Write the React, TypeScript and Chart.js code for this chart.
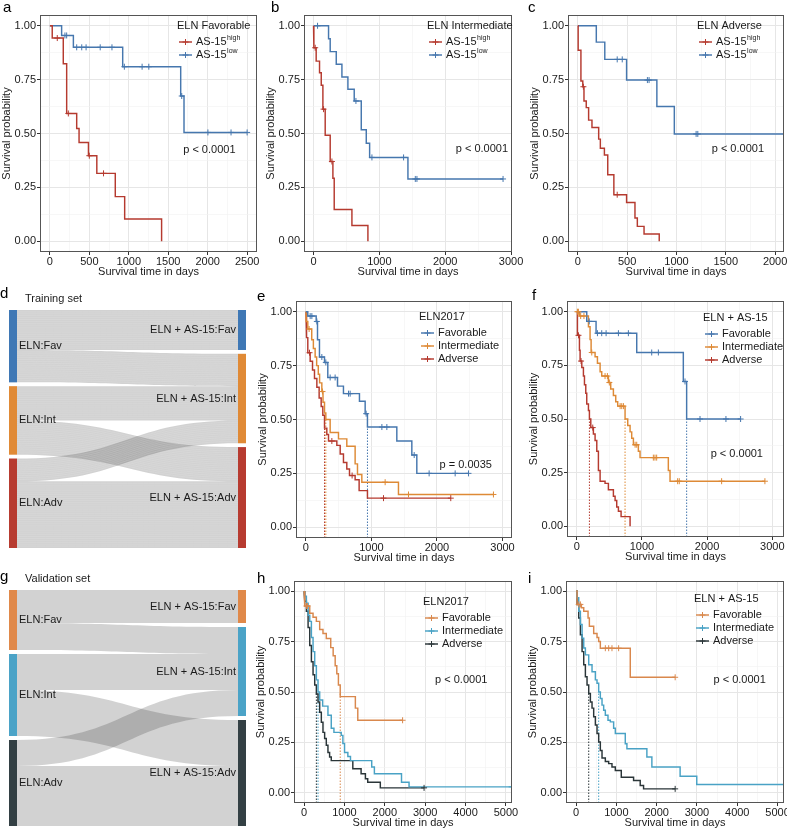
import React, { useEffect, useRef } from "react";
import { Chart, registerables } from "chart.js";

Chart.register(...registerables);

const FONT = '"Liberation Sans", Arial, Helvetica, sans-serif';
const TXT = "#1a1a1a";

// ---------------- panel a : ELN Favorable ----------------
const aHighT = [30, 170, 213, 340, 370, 489, 595, 829, 948, 1416];
const aHighS = [0.943, 0.824, 0.593, 0.523, 0.458, 0.397, 0.315, 0.207, 0.103, 0];
const aHighC = [94, 234, 500, 680];
const aLowT = [149, 298, 923, 1658, 1700];
const aLowS = [0.955, 0.9, 0.81, 0.674, 0.505];
const aLowC = [191, 213, 340, 404, 459, 638, 787, 944, 1169, 1254, 1671, 2003, 2296, 2500];

// ---------------- panel b : ELN Intermediate ----------------
const bHighT = [5, 40, 91, 117, 142, 177, 253, 294, 314, 583, 826];
const bHighS = [0.898, 0.836, 0.782, 0.724, 0.613, 0.492, 0.37, 0.292, 0.147, 0.073, 0];
const bHighC = [25, 152, 279];
const bLowT = [228, 253, 345, 431, 522, 618, 725, 801, 852, 1434];
const bLowS = [0.94, 0.88, 0.821, 0.762, 0.705, 0.651, 0.517, 0.455, 0.389, 0.289];
const bLowC = [61, 644, 887, 1368, 1546, 1571, 2879];

// ---------------- panel c : ELN Adverse ----------------
const cHighT = [3, 31, 50, 62, 85, 109, 143, 211, 228, 269, 303, 365, 494, 579, 603, 671, 825];
const cHighS = [0.886, 0.744, 0.717, 0.651, 0.62, 0.562, 0.528, 0.474, 0.432, 0.4, 0.309, 0.216, 0.18, 0.108, 0.069, 0.034, 0];
const cHighC = [56, 399];
const cLowT = [187, 273, 494, 801, 978];
const cLowS = [0.924, 0.844, 0.748, 0.625, 0.498];
const cLowC = [399, 450, 705, 722, 1199, 1216];
const cLowEnd = 2150;

// ---------------- panel e : ELN2017, training ----------------
const eFavT = [30, 158, 178, 208, 285, 335, 483, 574, 818, 905, 940, 1388, 1617, 1693];
const eFavS = [0.98, 0.955, 0.87, 0.79, 0.765, 0.695, 0.655, 0.62, 0.585, 0.527, 0.465, 0.4, 0.335, 0.25];
const eFavC = [66, 92, 168, 244, 305, 371, 447, 651, 676, 920, 1160, 1236, 1653, 1881, 2278, 2481];
const eIntT = [5, 30, 90, 115, 142, 165, 190, 210, 244, 262, 285, 305, 371, 498, 625, 752, 788, 854, 1413];
const eIntS = [0.955, 0.92, 0.87, 0.83, 0.79, 0.75, 0.71, 0.67, 0.63, 0.58, 0.53, 0.5, 0.44, 0.41, 0.376, 0.294, 0.245, 0.209, 0.152];
const eIntC = [50, 254, 1210, 1566, 2862];
const eAdvT = [3, 15, 30, 66, 102, 132, 168, 203, 234, 259, 285, 320, 346, 473, 524, 574, 625, 666, 752, 813, 940];
const eAdvS = [0.915, 0.88, 0.81, 0.77, 0.73, 0.69, 0.65, 0.6, 0.56, 0.52, 0.46, 0.43, 0.4, 0.38, 0.34, 0.3, 0.27, 0.24, 0.22, 0.17, 0.135];
const eAdvC = [56, 397, 706, 1185, 2211];

// ---------------- panel f : ELN + AS-15, training ----------------
const fFavT = [153, 296, 920, 1635, 1686];
const fFavS = [0.955, 0.9, 0.81, 0.675, 0.5];
const fFavC = [191, 317, 383, 450, 639, 792, 1150, 1252, 1661, 1891, 2289, 2514];
const fIntT = [40, 179, 204, 220, 281, 317, 358, 383, 485, 521, 562, 598, 628, 741, 782, 818, 843, 869, 945, 971, 1405, 1431];
const fIntS = [0.98, 0.93, 0.87, 0.81, 0.79, 0.76, 0.72, 0.7, 0.67, 0.64, 0.61, 0.58, 0.56, 0.5, 0.47, 0.44, 0.41, 0.38, 0.35, 0.32, 0.26, 0.21];
const fIntC = [10, 25, 60, 110, 230, 434, 470, 500, 665, 690, 716, 895, 920, 1175, 1200, 1226, 1548, 1573, 2223, 2887];
const fAdvT = [10, 41, 51, 77, 102, 118, 138, 153, 179, 194, 215, 255, 281, 307, 332, 358, 434, 485, 562, 588, 613, 639, 680, 818];
const fAdvS = [0.89, 0.82, 0.77, 0.74, 0.7, 0.66, 0.62, 0.57, 0.54, 0.5, 0.46, 0.43, 0.4, 0.35, 0.26, 0.21, 0.2, 0.17, 0.14, 0.12, 0.09, 0.07, 0.045, 0];
const fAdvC = [26, 66, 245];

// ---------------- panel h : ELN2017, validation ----------------
const hFavT = [16, 140, 222, 304, 386, 468, 550, 660, 720, 770, 810, 850, 895, 1270, 1330];
const hFavS = [0.926, 0.89, 0.87, 0.85, 0.81, 0.79, 0.765, 0.72, 0.68, 0.63, 0.59, 0.535, 0.477, 0.42, 0.36];
const hFavC = [57, 82, 2440];
const hIntT = [16, 57, 100, 140, 181, 222, 263, 304, 345, 386, 460, 591, 673, 739, 920, 961, 1002, 1084, 1149, 1675, 1741, 2413, 2600];
const hIntS = [0.975, 0.94, 0.88, 0.85, 0.77, 0.7, 0.63, 0.56, 0.5, 0.46, 0.43, 0.385, 0.32, 0.3, 0.285, 0.245, 0.2, 0.18, 0.16, 0.128, 0.095, 0.053, 0.03];
const hIntC = [5140];
const hAdvT = [16, 57, 99, 140, 181, 222, 263, 304, 345, 386, 427, 468, 509, 550, 591, 632, 673, 1207, 1412, 1519, 1576, 1888];
const hAdvS = [0.95, 0.9, 0.82, 0.73, 0.65, 0.585, 0.535, 0.49, 0.45, 0.4, 0.35, 0.3, 0.27, 0.236, 0.2, 0.178, 0.16, 0.12, 0.095, 0.07, 0.053, 0.025];
const hAdvC = [2972];

// ---------------- panel i : ELN + AS-15, validation ----------------
const iFavT = [25, 132, 190, 297, 330, 437, 520, 561, 602, 1345];
const iFavS = [0.934, 0.917, 0.9, 0.867, 0.826, 0.79, 0.77, 0.75, 0.717, 0.573];
const iFavC = [66, 107, 726, 809, 891, 1056, 2459];
const iIntT = [25, 66, 107, 149, 190, 231, 314, 396, 479, 520, 561, 602, 644, 685, 726, 792, 850, 932, 974, 1221, 1262, 1757, 1881, 2582, 2995];
const iIntS = [0.967, 0.9, 0.834, 0.767, 0.718, 0.684, 0.635, 0.6, 0.56, 0.543, 0.5, 0.468, 0.435, 0.41, 0.385, 0.36, 0.352, 0.32, 0.294, 0.244, 0.219, 0.178, 0.128, 0.083, 0.042];
const iIntC: number[] = [];
const iIntEnd = 5250;
const iAdvT = [25, 66, 107, 149, 190, 231, 272, 314, 355, 396, 437, 479, 520, 561, 602, 644, 726, 809, 891, 974, 1122, 1427, 1592, 1675];
const iAdvS = [0.934, 0.867, 0.784, 0.7, 0.635, 0.576, 0.535, 0.493, 0.45, 0.42, 0.377, 0.336, 0.294, 0.252, 0.21, 0.173, 0.156, 0.145, 0.128, 0.111, 0.078, 0.061, 0.037, 0.02];
const iAdvC = [2459];

// ---------------- tick labels ----------------
const yTicks = [0, 0.25, 0.5, 0.75, 1];
const xTicksA = [0, 500, 1000, 1500, 2000, 2500];
const xTicksB = [0, 1000, 2000, 3000];
const xTicksC = [0, 500, 1000, 1500, 2000];
const xTicksEF = [0, 1000, 2000, 3000];
const xTicksHI = [0, 1000, 2000, 3000, 4000, 5000];

// ---------------- alluvial (rows: ELN, cols: ELN + AS-15) ----------------
const sankeyLeft = ["ELN:Fav", "ELN:Int", "ELN:Adv"];
const sankeyRight = ["ELN + AS-15:Fav", "ELN + AS-15:Int", "ELN + AS-15:Adv"];
const dFlows = [
  [21, 17, 0],
  [0, 18, 18],
  [0, 12, 35],
];
const gFlows = [
  [33, 27, 0],
  [0, 36, 46],
  [0, 26, 60],
];

// ---------------- colours ----------------
const C_BLUE = "#4677ae";
const C_RED = "#b53a2f";
const C_ORANGE = "#de8a36";
const C_ORANGE2 = "#d9884d";
const C_TEAL = "#49a2c5";
const C_DARK = "#2a3538";

const Y_MIN = -0.05;
const Y_MAX = 1.05;

type Curve = { name: string; sup?: string; color: string; t: number[]; s: number[]; c: number[]; end?: number };
type Area = { L: number; T: number; R: number; B: number };
type KMSpec = {
  id: string;
  letter: string;
  letterAt: [number, number];
  area: Area;
  xMin: number;
  xMax: number;
  xTicks: number[];
  legendTitle: string;
  legendAt: [number, number];
  pText: string;
  pAt: [number, number];
  medians: boolean;
  curves: Curve[];
};

const KM_SPECS: KMSpec[] = [
  {
    id: "a", letter: "a", letterAt: [3, 12], area: { L: 40, T: 15, R: 257, B: 252 },
    xMin: -125, xMax: 2625, xTicks: xTicksA, legendTitle: "ELN Favorable", legendAt: [137, 11],
    pText: "p < 0.0001", pAt: [1690, 0.425], medians: false,
    curves: [
      { name: "AS-15", sup: "high", color: C_RED, t: aHighT, s: aHighS, c: aHighC },
      { name: "AS-15", sup: "low", color: C_BLUE, t: aLowT, s: aLowS, c: aLowC },
    ],
  },
  {
    id: "b", letter: "b", letterAt: [271, 12], area: { L: 304, T: 15, R: 512, B: 252 },
    xMin: -145, xMax: 3015, xTicks: xTicksB, legendTitle: "ELN Intermediate", legendAt: [123, 11],
    pText: "p < 0.0001", pAt: [2160, 0.43], medians: false,
    curves: [
      { name: "AS-15", sup: "high", color: C_RED, t: bHighT, s: bHighS, c: bHighC },
      { name: "AS-15", sup: "low", color: C_BLUE, t: bLowT, s: bLowS, c: bLowC },
    ],
  },
  {
    id: "c", letter: "c", letterAt: [528, 12], area: { L: 568, T: 15, R: 784, B: 252 },
    xMin: -100, xMax: 2090, xTicks: xTicksC, legendTitle: "ELN Adverse", legendAt: [129, 11],
    pText: "p < 0.0001", pAt: [1357, 0.43], medians: false,
    curves: [
      { name: "AS-15", sup: "high", color: C_RED, t: cHighT, s: cHighS, c: cHighC },
      { name: "AS-15", sup: "low", color: C_BLUE, t: cLowT, s: cLowS, c: cLowC, end: cLowEnd },
    ],
  },
  {
    id: "e", letter: "e", letterAt: [257, 301], area: { L: 296, T: 301, R: 512, B: 538 },
    xMin: -150, xMax: 3145, xTicks: xTicksEF, legendTitle: "ELN2017", legendAt: [123, 16],
    pText: "p = 0.0035", pAt: [2040, 0.29], medians: true,
    curves: [
      { name: "Favorable", color: C_BLUE, t: eFavT, s: eFavS, c: eFavC },
      { name: "Intermediate", color: C_ORANGE, t: eIntT, s: eIntS, c: eIntC },
      { name: "Adverse", color: C_RED, t: eAdvT, s: eAdvS, c: eAdvC },
    ],
  },
  {
    id: "f", letter: "f", letterAt: [532, 300], area: { L: 567, T: 301, R: 784, B: 537 },
    xMin: -150, xMax: 3180, xTicks: xTicksEF, legendTitle: "ELN + AS-15", legendAt: [136, 17],
    pText: "p < 0.0001", pAt: [2055, 0.335], medians: true,
    curves: [
      { name: "Favorable", color: C_BLUE, t: fFavT, s: fFavS, c: fFavC },
      { name: "Intermediate", color: C_ORANGE, t: fIntT, s: fIntS, c: fIntC },
      { name: "Adverse", color: C_RED, t: fAdvT, s: fAdvS, c: fAdvC },
    ],
  },
  {
    id: "h", letter: "h", letterAt: [257, 583], area: { L: 294, T: 581, R: 512, B: 803 },
    xMin: -250, xMax: 5150, xTicks: xTicksHI, legendTitle: "ELN2017", legendAt: [129, 21],
    pText: "p < 0.0001", pAt: [3245, 0.56], medians: true,
    curves: [
      { name: "Favorable", color: C_ORANGE2, t: hFavT, s: hFavS, c: hFavC },
      { name: "Intermediate", color: C_TEAL, t: hIntT, s: hIntS, c: hIntC },
      { name: "Adverse", color: C_DARK, t: hAdvT, s: hAdvS, c: hAdvC },
    ],
  },
  {
    id: "i", letter: "i", letterAt: [528, 583], area: { L: 566, T: 581, R: 784, B: 803 },
    xMin: -250, xMax: 5160, xTicks: xTicksHI, legendTitle: "ELN + AS-15", legendAt: [128, 18],
    pText: "p < 0.0001", pAt: [3410, 0.56], medians: true,
    curves: [
      { name: "Favorable", color: C_ORANGE2, t: iFavT, s: iFavS, c: iFavC },
      { name: "Intermediate", color: C_TEAL, t: iIntT, s: iIntS, c: iIntC, end: iIntEnd },
      { name: "Adverse", color: C_DARK, t: iAdvT, s: iAdvS, c: iAdvC },
    ],
  },
];

type SankeySpec = {
  id: string;
  letter: string;
  letterAt: [number, number];
  title: string;
  titleAt: [number, number];
  canvas: { left: number; top: number; w: number; h: number };
  area: Area;
  flows: number[][];
  gap: number;
  colors: string[];
  stripes: boolean;
};

const SANKEY_SPECS: SankeySpec[] = [
  {
    id: "d", letter: "d", letterAt: [0, 298], title: "Training set", titleAt: [25, 298.5],
    canvas: { left: 0, top: 285, w: 258, h: 268 }, area: { L: 9, T: 310, R: 246, B: 548 },
    flows: dFlows, gap: 2, colors: ["#3f78b5", "#e08a36", "#b73b30"], stripes: true,
  },
  {
    id: "g", letter: "g", letterAt: [0, 581], title: "Validation set", titleAt: [25, 578.5],
    canvas: { left: 0, top: 565, w: 258, h: 266 }, area: { L: 9, T: 590, R: 246, B: 826 },
    flows: gFlows, gap: 4, colors: ["#e0894a", "#4ba3c7", "#334044"], stripes: false,
  },
];

// ---------------- helpers ----------------
function withMinor(major: number[]) {
  const out: number[] = [];
  major.forEach((v, i) => {
    out.push(v);
    if (i < major.length - 1) out.push((v + major[i + 1]) / 2);
  });
  return out;
}

function stepPoints(t: number[], s: number[], end: number) {
  const pts = [{ x: 0, y: 1 }];
  let prev = 1;
  for (let i = 0; i < t.length; i++) {
    pts.push({ x: t[i], y: prev });
    pts.push({ x: t[i], y: s[i] });
    prev = s[i];
  }
  if (end > t[t.length - 1]) pts.push({ x: end, y: prev });
  return pts;
}

function survAt(t: number[], s: number[], x: number) {
  let v = 1;
  for (let i = 0; i < t.length; i++) if (t[i] <= x) v = s[i];
  return v;
}

function medianOf(t: number[], s: number[]) {
  for (let i = 0; i < t.length; i++) if (s[i] <= 0.5) return t[i];
  return null;
}

const Y_AXIS_W = 48;
const X_AXIS_H = 28;
const PAD_TOP = 15;
const PAD_RIGHT = 16;
const LINE_W = 1.45;
const MARK_R = 3;

function kmGeo(a: Area) {
  const left = a.L - Y_AXIS_W;
  const top = a.T - PAD_TOP;
  return { left, top, w: a.R + PAD_RIGHT - left, h: a.B + X_AXIS_H - top };
}

function gridOpts(major: number[]) {
  const isMajor = (c: any) => c.tick && major.includes(c.tick.value);
  return {
    drawOnChartArea: true,
    drawTicks: true,
    tickLength: 3,
    color: (c: any) => (isMajor(c) ? "#e6e6e6" : "#f2f2f2"),
    lineWidth: (c: any) => (isMajor(c) ? 1 : 0.6),
    tickColor: (c: any) => (isMajor(c) ? "#333333" : "rgba(0,0,0,0)"),
    tickWidth: 1,
  };
}

function buildKM(canvas: HTMLCanvasElement, sp: KMSpec) {
  const geo = kmGeo(sp.area);
  const datasets: any[] = [];
  sp.curves.forEach((cv) => {
    const lastT = Math.max(cv.t[cv.t.length - 1], ...(cv.c.length ? cv.c : [0]), cv.end ?? 0);
    datasets.push({
      data: stepPoints(cv.t, cv.s, lastT),
      borderColor: cv.color,
      borderWidth: LINE_W,
      pointRadius: 0,
      fill: false,
      tension: 0,
      order: 2,
    });
    if (cv.c.length) {
      datasets.push({
        data: cv.c.map((x) => ({ x, y: survAt(cv.t, cv.s, x) })),
        showLine: false,
        pointStyle: "cross",
        pointRadius: MARK_R,
        pointBorderWidth: 1,
        pointBorderColor: cv.color,
        borderColor: cv.color,
        order: 1,
      });
    }
    if (sp.medians) {
      const m = medianOf(cv.t, cv.s);
      if (m !== null) {
        datasets.push({
          data: [{ x: m, y: Y_MIN }, { x: m, y: 0.5 }],
          borderColor: cv.color,
          borderWidth: 1,
          borderDash: [1.5, 1.5],
          pointRadius: 0,
          order: 3,
        });
      }
    }
  });

  const xAll = withMinor(sp.xTicks);
  const yAll = withMinor(yTicks);

  const decor = {
    id: "kmDecor" + sp.id,
    afterDraw(chart: any) {
      const { ctx, chartArea: a, scales } = chart;
      ctx.save();
      ctx.strokeStyle = "#555555";
      ctx.lineWidth = 1;
      ctx.strokeRect(a.left + 0.5, a.top + 0.5, a.right - a.left - 1, a.bottom - a.top - 1);

      ctx.fillStyle = "#000";
      ctx.font = `15px ${FONT}`;
      ctx.textAlign = "left";
      ctx.textBaseline = "alphabetic";
      ctx.fillText(sp.letter, sp.letterAt[0] - geo.left, sp.letterAt[1] - geo.top);

      ctx.fillStyle = TXT;
      ctx.font = `11px ${FONT}`;
      ctx.textAlign = "center";
      ctx.textBaseline = "middle";
      ctx.fillText("Survival time in days", (a.left + a.right) / 2, a.bottom + 20);
      ctx.save();
      ctx.translate(a.left - 33, (a.top + a.bottom) / 2);
      ctx.rotate(-Math.PI / 2);
      ctx.fillText("Survival probability", 0, 0);
      ctx.restore();

      ctx.textAlign = "left";
      ctx.fillText(sp.pText, scales.x.getPixelForValue(sp.pAt[0]), scales.y.getPixelForValue(sp.pAt[1]));

      // legend
      const lx = a.left + sp.legendAt[0];
      const ly = a.top + sp.legendAt[1];
      ctx.fillText(sp.legendTitle, lx, ly);
      sp.curves.forEach((cv, k) => {
        const yy = ly + 16 + k * 13;
        const k0 = lx + 2;
        const k1 = k0 + 13;
        ctx.strokeStyle = cv.color;
        ctx.lineWidth = LINE_W;
        ctx.beginPath();
        ctx.moveTo(k0, yy);
        ctx.lineTo(k1, yy);
        ctx.stroke();
        ctx.lineWidth = 1;
        ctx.beginPath();
        const cx = (k0 + k1) / 2;
        ctx.moveTo(cx, yy - MARK_R);
        ctx.lineTo(cx, yy + MARK_R);
        ctx.moveTo(cx - MARK_R, yy);
        ctx.lineTo(cx + MARK_R, yy);
        ctx.stroke();
        ctx.fillStyle = TXT;
        ctx.font = `11px ${FONT}`;
        ctx.fillText(cv.name, k1 + 4, yy);
        if (cv.sup) {
          const w = ctx.measureText(cv.name).width;
          ctx.font = `7px ${FONT}`;
          ctx.fillText(cv.sup, k1 + 4 + w + 0.5, yy - 3.5);
          ctx.font = `11px ${FONT}`;
        }
      });
      ctx.restore();
    },
  };

  return new Chart(canvas, {
    type: "line",
    data: { datasets },
    options: {
      animation: false,
      responsive: false,
      devicePixelRatio: 1,
      events: [],
      layout: { padding: { left: 0, top: PAD_TOP, right: PAD_RIGHT, bottom: 0 } },
      plugins: { legend: { display: false }, tooltip: { enabled: false } },
      scales: {
        x: {
          type: "linear",
          min: sp.xMin,
          max: sp.xMax,
          afterBuildTicks: (s: any) => {
            s.ticks = xAll.map((v) => ({ value: v }));
          },
          afterFit: (s: any) => {
            s.height = X_AXIS_H;
          },
          border: { display: false },
          grid: gridOpts(sp.xTicks) as any,
          ticks: {
            autoSkip: false,
            maxRotation: 0,
            minRotation: 0,
            padding: 0,
            color: TXT,
            font: { family: FONT, size: 11 },
            callback: (v: any) => (sp.xTicks.includes(v) ? String(v) : ""),
          },
        },
        y: {
          type: "linear",
          min: Y_MIN,
          max: Y_MAX,
          afterBuildTicks: (s: any) => {
            s.ticks = yAll.map((v) => ({ value: v }));
          },
          afterFit: (s: any) => {
            s.width = Y_AXIS_W;
          },
          border: { display: false },
          grid: gridOpts(yTicks) as any,
          ticks: {
            autoSkip: false,
            padding: 1,
            color: TXT,
            font: { family: FONT, size: 11 },
            callback: (v: any) => (yTicks.includes(v) ? Number(v).toFixed(2) : ""),
          },
        },
      },
    } as any,
    plugins: [decor],
  });
}

function buildSankey(canvas: HTMLCanvasElement, sp: SankeySpec) {
  const n = sp.flows.length;
  const leftSizes = sp.flows.map((r) => r.reduce((p, q) => p + q, 0));
  const rightSizes = sp.flows[0].map((_, j) => sp.flows.reduce((p, r) => p + r[j], 0));
  const total = leftSizes.reduce((p, q) => p + q, 0) + sp.gap * (n - 1);
  const tops = (sizes: number[]) => {
    const out: number[] = [];
    let acc = 0;
    sizes.forEach((s) => {
      out.push(acc);
      acc += s + sp.gap;
    });
    return out;
  };
  const leftTop = tops(leftSizes);
  const rightTop = tops(rightSizes);
  const a = sp.area;
  const c = sp.canvas;
  const barW = 8 / (a.R - a.L);

  const plugin = {
    id: "sankey" + sp.id,
    afterDraw(chart: any) {
      const { ctx, scales } = chart;
      const X = (v: number) => scales.x.getPixelForValue(v);
      const Y = (v: number) => scales.y.getPixelForValue(v);
      const xL0 = X(0), xL1 = X(barW), xR0 = X(1 - barW), xR1 = X(1);
      const xm = (xL1 + xR0) / 2;
      ctx.save();
      const lOff = leftTop.slice();
      const rOff = rightTop.slice();
      for (let i = 0; i < n; i++) {
        for (let j = 0; j < n; j++) {
          const v = sp.flows[i][j];
          if (!v) continue;
          const a0 = lOff[i], a1 = a0 + v;
          const b0 = rOff[j], b1 = b0 + v;
          lOff[i] = a1;
          rOff[j] = b1;
          ctx.beginPath();
          ctx.moveTo(xL1, Y(a0));
          ctx.bezierCurveTo(xm, Y(a0), xm, Y(b0), xR0, Y(b0));
          ctx.lineTo(xR0, Y(b1));
          ctx.bezierCurveTo(xm, Y(b1), xm, Y(a1), xL1, Y(a1));
          ctx.closePath();
          ctx.fillStyle = "rgba(30,30,30,0.2)";
          ctx.fill();
          if (sp.stripes) {
            ctx.strokeStyle = "rgba(255,255,255,0.22)";
            ctx.lineWidth = 0.5;
            for (let k = 1; k < v; k++) {
              ctx.beginPath();
              ctx.moveTo(xL1, Y(a0 + k));
              ctx.bezierCurveTo(xm, Y(a0 + k), xm, Y(b0 + k), xR0, Y(b0 + k));
              ctx.stroke();
            }
          }
        }
      }
      // strata
      for (let i = 0; i < n; i++) {
        ctx.fillStyle = sp.colors[i];
        ctx.fillRect(xL0, Y(leftTop[i]), xL1 - xL0, Y(leftTop[i] + leftSizes[i]) - Y(leftTop[i]));
        ctx.fillRect(xR0, Y(rightTop[i]), xR1 - xR0, Y(rightTop[i] + rightSizes[i]) - Y(rightTop[i]));
      }
      ctx.fillStyle = TXT;
      ctx.font = `11px ${FONT}`;
      ctx.textBaseline = "middle";
      for (let i = 0; i < n; i++) {
        ctx.textAlign = "left";
        ctx.fillText(sankeyLeft[i], xL1 + 2, Y(leftTop[i] + leftSizes[i] / 2));
        ctx.textAlign = "right";
        ctx.fillText(sankeyRight[i], xR0 - 2, Y(rightTop[i] + rightSizes[i] / 2));
      }
      ctx.textAlign = "left";
      ctx.fillText(sp.title, sp.titleAt[0] - c.left, sp.titleAt[1] - c.top);
      ctx.fillStyle = "#000";
      ctx.font = `15px ${FONT}`;
      ctx.textBaseline = "alphabetic";
      ctx.fillText(sp.letter, sp.letterAt[0] - c.left, sp.letterAt[1] - c.top);
      ctx.restore();
    },
  };

  return new Chart(canvas, {
    type: "scatter",
    data: { datasets: [] },
    options: {
      animation: false,
      responsive: false,
      devicePixelRatio: 1,
      events: [],
      layout: {
        padding: {
          left: a.L - c.left,
          top: a.T - c.top,
          right: c.left + c.w - a.R,
          bottom: c.top + c.h - a.B,
        },
      },
      plugins: { legend: { display: false }, tooltip: { enabled: false } },
      scales: {
        x: { type: "linear", min: 0, max: 1, display: false },
        y: { type: "linear", min: 0, max: total, reverse: true, display: false },
      },
    } as any,
    plugins: [plugin],
  });
}

function KMPanel({ sp }: { sp: KMSpec }) {
  const ref = useRef<HTMLCanvasElement>(null);
  const geo = kmGeo(sp.area);
  useEffect(() => {
    const chart = buildKM(ref.current!, sp);
    return () => chart.destroy();
  }, []);
  return (
    <canvas
      ref={ref}
      width={geo.w}
      height={geo.h}
      style={{ position: "absolute", left: geo.left, top: geo.top, width: geo.w, height: geo.h }}
    />
  );
}

function SankeyPanel({ sp }: { sp: SankeySpec }) {
  const ref = useRef<HTMLCanvasElement>(null);
  useEffect(() => {
    const chart = buildSankey(ref.current!, sp);
    return () => chart.destroy();
  }, []);
  const c = sp.canvas;
  return (
    <canvas
      ref={ref}
      width={c.w}
      height={c.h}
      style={{ position: "absolute", left: c.left, top: c.top, width: c.w, height: c.h }}
    />
  );
}

export default function App() {
  return (
    <div
      style={{
        position: "fixed",
        left: 0,
        top: 0,
        width: 787,
        height: 831,
        overflow: "hidden",
        background: "#ffffff",
        fontFamily: FONT,
      }}
    >
      {SANKEY_SPECS.map((sp) => (
        <SankeyPanel key={sp.id} sp={sp} />
      ))}
      {KM_SPECS.map((sp) => (
        <KMPanel key={sp.id} sp={sp} />
      ))}
    </div>
  );
}
